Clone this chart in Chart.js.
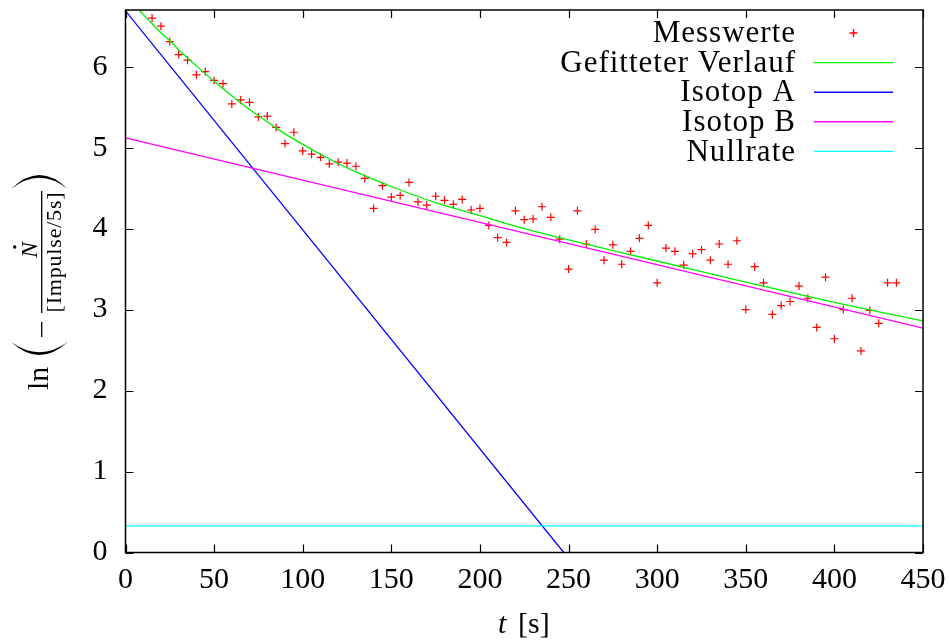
<!DOCTYPE html>
<html>
<head>
<meta charset="utf-8">
<script src="https://cdn.jsdelivr.net/npm/chart.js@4.4.1/dist/chart.umd.min.js"></script>
<style>
  html, body { margin: 0; padding: 0; background: #fff; }
  canvas { display: block; }
</style>
</head>
<body>
<canvas id="chart" width="949" height="644"></canvas>
<script>
// tick labels
const xTicks = [0, 50, 100, 150, 200, 250, 300, 350, 400, 450];
const yTicks = [0, 1, 2, 3, 4, 5, 6];

const measuredT = [
  15, 20, 25, 30, 35, 40, 45, 50, 55, 60, 65, 70, 75, 80, 85, 90, 95, 100,
  105, 110, 115, 120, 125, 130, 135, 140, 145, 150, 155, 160, 165, 170, 175,
  180, 185, 190, 195, 200, 205, 210, 215, 220, 225, 230, 235, 240, 245, 250,
  255, 260, 265, 270, 275, 280, 285, 290, 295, 300, 305, 310, 315, 320, 325,
  330, 335, 340, 345, 350, 355, 360, 365, 370, 375, 380, 385, 390, 395, 400,
  405, 410, 415, 420, 425, 430, 435
];
const measuredLn = [
  6.60, 6.50, 6.31, 6.15, 6.08, 5.90, 5.94, 5.83, 5.79, 5.54, 5.59, 5.56, 5.38, 5.39, 5.25, 5.05, 5.19, 4.96,
  4.92, 4.88, 4.80, 4.82, 4.81, 4.77, 4.62, 4.25, 4.53, 4.39, 4.41, 4.57, 4.33, 4.29, 4.40,
  4.35, 4.30, 4.36, 4.23, 4.25, 4.04, 3.89, 3.83, 4.22, 4.11, 4.12, 4.27, 4.14, 3.87, 3.50,
  4.22, 3.81, 3.99, 3.61, 3.80, 3.56, 3.72, 3.88, 4.04, 3.33, 3.76, 3.72, 3.55, 3.69, 3.74,
  3.61, 3.81, 3.56, 3.85, 3.00, 3.53, 3.33, 2.94, 3.05, 3.10, 3.29, 3.14, 2.78, 3.40, 2.64,
  3.00, 3.14, 2.49, 2.99, 2.83, 3.33, 3.33
];

// Gefitteter Verlauf
const fitT  = [8, 15, 20, 25, 30, 40, 50, 60, 70, 80, 90, 100, 115, 130, 150, 175, 200, 225, 250, 300, 350, 400, 450];
const fitLn = [6.69, 6.53, 6.42, 6.32, 6.21, 6.01, 5.82, 5.64, 5.47, 5.32, 5.17, 5.04, 4.86, 4.70, 4.52, 4.32, 4.16, 4.00, 3.86, 3.60, 3.34, 3.09, 2.86];

// Isotop A, Isotop B, Nullrate (straight lines, end points)
const isoAT = [0, 247.3];
const isoALn = [6.69, 0];
const isoBT = [0, 450];
const isoBLn = [5.12, 2.77];
const nullT = [0, 450];
const nullLn = [0.33, 0.33];

const pts = (xs, ys) => xs.map((x, i) => ({ x: x, y: ys[i] }));

const FONT = "'Liberation Serif', 'Times New Roman', serif";

const framePlugin = {
  id: "frame",
  afterDraw(chart) {
    const { ctx, chartArea: a, scales } = chart;
    const x = scales.x, y = scales.y;
    ctx.save();
    // border
    ctx.strokeStyle = "#000";
    ctx.lineWidth = 1.5;
    ctx.strokeRect(a.left, a.top, a.right - a.left, a.bottom - a.top);
    // inward ticks on all four sides
    ctx.lineWidth = 1.2;
    ctx.beginPath();
    xTicks.forEach((v) => {
      const px = Math.round(x.getPixelForValue(v)) + 0.5;
      ctx.moveTo(px, a.bottom); ctx.lineTo(px, a.bottom - 8);
      ctx.moveTo(px, a.top); ctx.lineTo(px, a.top + 8);
    });
    yTicks.forEach((v) => {
      const py = Math.round(y.getPixelForValue(v)) + 0.5;
      ctx.moveTo(a.left, py); ctx.lineTo(a.left + 8, py);
      ctx.moveTo(a.right, py); ctx.lineTo(a.right - 8, py);
    });
    ctx.stroke();

    // legend: text right aligned, sample on the right
    ctx.font = "31px " + FONT;
    ctx.letterSpacing = "1px";
    ctx.textAlign = "right";
    ctx.textBaseline = "middle";
    ctx.fillStyle = "#000";
    chart.data.datasets.forEach((ds, i) => {
      const ry = 33 + i * 29.6;
      ctx.fillText(ds.label, 796, ry + 1);
      ctx.strokeStyle = ds.borderColor;
      ctx.lineWidth = 1.4;
      ctx.beginPath();
      if (ds.showLine) {
        ctx.moveTo(814, ry); ctx.lineTo(893, ry);
      } else {
        ctx.moveTo(849.5, ry); ctx.lineTo(857.5, ry);
        ctx.moveTo(853.5, ry - 4); ctx.lineTo(853.5, ry + 4);
      }
      ctx.stroke();
    });
    ctx.letterSpacing = "0px";

    // x axis title: t [s]
    ctx.textAlign = "left";
    ctx.textBaseline = "alphabetic";
    ctx.fillStyle = "#000";
    ctx.font = "italic 30px " + FONT;
    ctx.fillText("t", 498, 633);
    ctx.font = "30px " + FONT;
    ctx.fillText("[s]", 518, 633);

    // y axis title: ln( - Ndot / [Impulse/5s] ), rotated
    ctx.translate(41.7, 284);
    ctx.rotate(-Math.PI / 2);
    ctx.font = "30px " + FONT;
    ctx.fillText("ln", -106, 6);
    // minus
    ctx.lineWidth = 1.3;
    ctx.strokeStyle = "#000";
    ctx.beginPath();
    ctx.moveTo(-53, 0); ctx.lineTo(-38, 0);
    // fraction bar
    ctx.moveTo(-29, 0); ctx.lineTo(93, 0);
    ctx.stroke();
    // numerator N with dot
    ctx.font = "italic 24px " + FONT;
    ctx.textAlign = "center";
    ctx.fillText("N", 34, -5);
    ctx.beginPath();
    ctx.arc(37, -27, 1.7, 0, Math.PI * 2);
    ctx.fill();
    // denominator
    ctx.font = "22px " + FONT;
    ctx.letterSpacing = "0.8px";
    ctx.fillText("[Impulse/5s]", 32, 19);
    ctx.letterSpacing = "0px";
    // big parentheses
    const paren = (endA, outerC, innerC) => {
      ctx.beginPath();
      ctx.moveTo(endA, -30.5);
      ctx.quadraticCurveTo(outerC, -2.2, endA, 26);
      ctx.quadraticCurveTo(innerC, -2.2, endA, -30.5);
      ctx.fill();
    };
    paren(-58, -84, -78.5);
    paren(95, 123, 117.5);
    ctx.restore();
  }
};

new Chart(document.getElementById("chart"), {
  type: "scatter",
  data: {
    datasets: [
      {
        label: "Messwerte",
        data: pts(measuredT, measuredLn),
        showLine: false,
        pointStyle: "cross",
        pointRadius: 4,
        pointBorderWidth: 1.2,
        borderColor: "#ff0000",
        backgroundColor: "#ff0000",
        order: 5
      },
      {
        label: "Gefitteter Verlauf",
        data: pts(fitT, fitLn),
        showLine: true,
        borderColor: "#00ee00",
        borderWidth: 1.3,
        pointRadius: 0,
        cubicInterpolationMode: "monotone",
        order: 4
      },
      {
        label: "Isotop A",
        data: pts(isoAT, isoALn),
        showLine: true,
        borderColor: "#0000ff",
        borderWidth: 1.2,
        pointRadius: 0,
        order: 3
      },
      {
        label: "Isotop B",
        data: pts(isoBT, isoBLn),
        showLine: true,
        borderColor: "#ff00ff",
        borderWidth: 1.2,
        pointRadius: 0,
        order: 2
      },
      {
        label: "Nullrate",
        data: pts(nullT, nullLn),
        showLine: true,
        borderColor: "#00ffff",
        borderWidth: 1.2,
        pointRadius: 0,
        order: 1
      }
    ]
  },
  options: {
    responsive: false,
    animation: false,
    layout: { padding: { top: 10, right: 26, left: 0, bottom: 0 } },
    plugins: {
      legend: { display: false },
      tooltip: { enabled: false }
    },
    scales: {
      x: {
        type: "linear",
        min: 0,
        max: 450,
        afterBuildTicks: (s) => { s.ticks = xTicks.map((v) => ({ value: v })); },
        afterFit: (s) => {
          s.height = 91.5;
          s.paddingLeft = 0; s.paddingRight = 0;
        },
        grid: { display: false, drawTicks: false },
        border: { display: false },
        ticks: {
          padding: 10,
          maxRotation: 0,
          color: "#000",
          font: { family: FONT, size: 30 }
        }
      },
      y: {
        type: "linear",
        min: 0,
        max: 6.7,
        afterBuildTicks: (s) => { s.ticks = yTicks.map((v) => ({ value: v })); },
        afterFit: (s) => {
          s.width = 125.5;
          s.paddingTop = 0; s.paddingBottom = 0;
        },
        grid: { display: false, drawTicks: false },
        border: { display: false },
        ticks: {
          padding: 18,
          color: "#000",
          font: { family: FONT, size: 30 }
        }
      }
    }
  },
  plugins: [framePlugin]
});
</script>
</body>
</html>
